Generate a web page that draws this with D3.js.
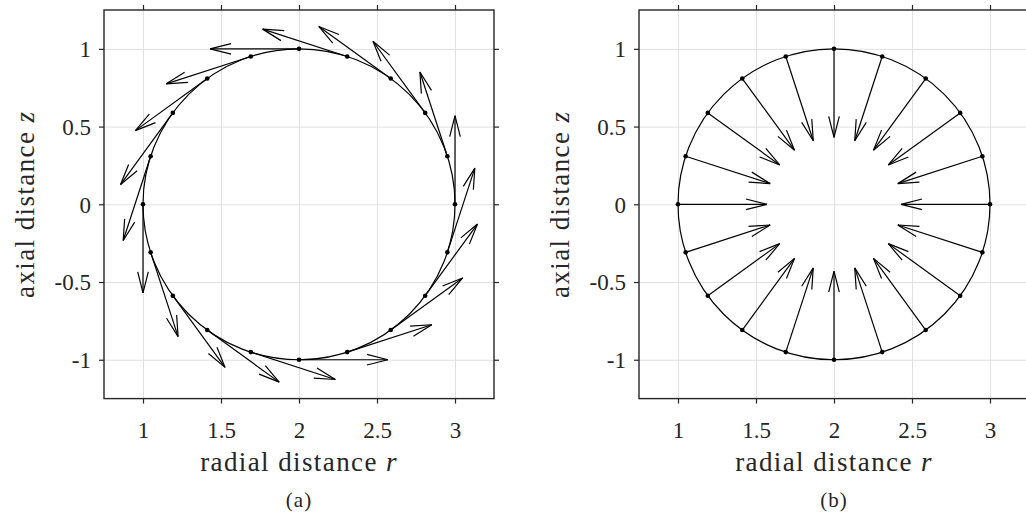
<!DOCTYPE html>
<html>
<head>
<meta charset="utf-8">
<script src="https://cdn.jsdelivr.net/npm/d3@7"></script>
<style>
  body { margin: 0; background: #fff; }
  svg { display: block; }
</style>
</head>
<body>
<svg id="fig" width="1026" height="514"></svg>
<script>
// Sample points on the circle (r, z), every 18 degrees starting at (3, 0)
const pointR = [3.000, 2.951, 2.809, 2.588, 2.309, 2.000, 1.691, 1.412, 1.191, 1.049,
                1.000, 1.049, 1.191, 1.412, 1.691, 2.000, 2.309, 2.588, 2.809, 2.951];
const pointZ = [0.000, 0.309, 0.588, 0.809, 0.951, 1.000, 0.951, 0.809, 0.588, 0.309,
                0.000, -0.309, -0.588, -0.809, -0.951, -1.000, -0.951, -0.809, -0.588, -0.309];

// (a) tangential field at each point
const swirlU = [0.000, -0.176, -0.335, -0.461, -0.542, -0.570, -0.542, -0.461, -0.335, -0.176,
                0.000, 0.176, 0.335, 0.461, 0.542, 0.570, 0.542, 0.461, 0.335, 0.176];
const swirlW = [0.570, 0.542, 0.461, 0.335, 0.176, 0.000, -0.176, -0.335, -0.461, -0.542,
                -0.570, -0.542, -0.461, -0.335, -0.176, 0.000, 0.176, 0.335, 0.461, 0.542];

// (b) inward normal field at each point
const inwardU = [-0.570, -0.542, -0.461, -0.335, -0.176, 0.000, 0.176, 0.335, 0.461, 0.542,
                 0.570, 0.542, 0.461, 0.335, 0.176, 0.000, -0.176, -0.335, -0.461, -0.542];
const inwardW = [0.000, -0.176, -0.335, -0.461, -0.542, -0.570, -0.542, -0.461, -0.335, -0.176,
                 0.000, 0.176, 0.335, 0.461, 0.542, 0.570, 0.542, 0.461, 0.335, 0.176];

const circleCenter = [2, 0];
const circleRadius = 1;

const rDomain = [0.75, 3.25];
const zDomain = [-1.25, 1.25];
const rTicks = [1, 1.5, 2, 2.5, 3];
const rTickLabels = ["1", "1.5", "2", "2.5", "3"];
const zTicks = [-1, -0.5, 0, 0.5, 1];
const zTickLabels = ["-1", "-0.5", "0", "0.5", "1"];
const panelCaptions = ["(a)", "(b)"];

const svg = d3.select("#fig");
const plotTop = 10, plotBottom = 398.6, boxW = 390;
const panelLefts = [104, 639];
const fields = [[swirlU, swirlW], [inwardU, inwardW]];
const ink = "#262626";
const serif = '"Liberation Serif", "Times New Roman", serif';
const headLen = 21, headHalf = 5.3;

panelLefts.forEach((left, p) => {
  const x = d3.scaleLinear().domain(rDomain).range([left, left + boxW]);
  const y = d3.scaleLinear().domain(zDomain).range([plotBottom, plotTop]);
  const g = svg.append("g");
  const h = plotBottom - plotTop;

  // grid
  g.append("g").attr("transform", `translate(0,${plotBottom})`)
    .call(d3.axisBottom(x).tickValues(rTicks).tickSize(-h).tickFormat(""))
    .call(a => a.select(".domain").remove())
    .call(a => a.selectAll("line").attr("stroke", "#e0e0e0").attr("stroke-width", 1));
  g.append("g").attr("transform", `translate(${left},0)`)
    .call(d3.axisLeft(y).tickValues(zTicks).tickSize(-boxW).tickFormat(""))
    .call(a => a.select(".domain").remove())
    .call(a => a.selectAll("line").attr("stroke", "#e0e0e0").attr("stroke-width", 1));

  // circle
  g.append("ellipse")
    .attr("cx", x(circleCenter[0])).attr("cy", y(circleCenter[1]))
    .attr("rx", x(circleCenter[0] + circleRadius) - x(circleCenter[0]))
    .attr("ry", y(circleCenter[1]) - y(circleCenter[1] + circleRadius))
    .attr("fill", "none").attr("stroke", "#000").attr("stroke-width", 1.2);

  // arrows
  const [U, W] = fields[p];
  const arrows = pointR.map((r, i) => {
    const x0 = x(r), y0 = y(pointZ[i]);
    const x1 = x(r + U[i]), y1 = y(pointZ[i] + W[i]);
    const len = Math.hypot(x1 - x0, y1 - y0);
    const dx = (x1 - x0) / len, dy = (y1 - y0) / len;
    const bx = x1 - dx * headLen, by = y1 - dy * headLen;
    return {
      shaft: [[x0, y0], [x1, y1]],
      head: [[bx - dy * headHalf, by + dx * headHalf], [x1, y1], [bx + dy * headHalf, by - dx * headHalf]]
    };
  });
  const line = d3.line();
  g.append("g").selectAll("path").data(arrows).join("path")
    .attr("d", d => line(d.shaft)).attr("fill", "none").attr("stroke", "#000").attr("stroke-width", 1.2);
  g.append("g").selectAll("path").data(arrows).join("path")
    .attr("d", d => line(d.head)).attr("fill", "none").attr("stroke", "#000").attr("stroke-width", 1.2);

  // sample points
  g.append("g").selectAll("circle").data(pointR).join("circle")
    .attr("cx", d => x(d)).attr("cy", (d, i) => y(pointZ[i])).attr("r", 2.3).attr("fill", "#000");

  // axes with outward ticks on all four sides
  const styleAxis = a => {
    a.select(".domain").remove();
    a.selectAll("line").attr("stroke", ink).attr("stroke-width", 1.2);
  };
  const styleLabels = t => t.style("font-family", serif).style("font-size", "23px").attr("fill", ink);
  g.append("g").attr("transform", `translate(0,${plotBottom})`)
    .call(d3.axisBottom(x).tickValues(rTicks).tickSize(5).tickSizeOuter(0)
      .tickFormat((d, i) => rTickLabels[i]))
    .call(styleAxis)
    .call(a => a.selectAll("text").attr("y", 39.4).attr("dy", null).call(styleLabels));
  g.append("g").attr("transform", `translate(0,${plotTop})`)
    .call(d3.axisTop(x).tickValues(rTicks).tickSize(5).tickSizeOuter(0).tickFormat(""))
    .call(styleAxis);
  g.append("g").attr("transform", `translate(${left},0)`)
    .call(d3.axisLeft(y).tickValues(zTicks).tickSize(5).tickSizeOuter(0)
      .tickFormat((d, i) => zTickLabels[i]))
    .call(styleAxis)
    .call(a => a.selectAll("text").attr("x", -13).attr("dy", "0.34em").call(styleLabels));
  g.append("g").attr("transform", `translate(${left + boxW},0)`)
    .call(d3.axisRight(y).tickValues(zTicks).tickSize(5).tickSizeOuter(0).tickFormat(""))
    .call(styleAxis);

  // box
  g.append("rect").attr("x", left).attr("y", plotTop).attr("width", boxW).attr("height", h)
    .attr("fill", "none").attr("stroke", ink).attr("stroke-width", 1.4);

  // axis labels
  const xl = g.append("text").attr("x", x(2)).attr("y", 471)
    .attr("text-anchor", "middle").attr("fill", ink)
    .style("font-family", serif).style("font-size", "27px").style("letter-spacing", "1.4px");
  xl.append("tspan").text("radial distance ");
  xl.append("tspan").style("font-style", "italic").text("r");

  const yl = g.append("text")
    .attr("transform", `translate(${left - 70},${(plotTop + plotBottom) / 2}) rotate(-90)`)
    .attr("text-anchor", "middle").attr("fill", ink)
    .style("font-family", serif).style("font-size", "27px").style("letter-spacing", "1.4px");
  yl.append("tspan").text("axial distance ");
  yl.append("tspan").style("font-style", "italic").text("z");

  g.append("text").attr("x", x(2)).attr("y", 507).attr("text-anchor", "middle").attr("fill", ink)
    .style("font-family", serif).style("font-size", "21px").style("letter-spacing", "1px")
    .text(panelCaptions[p]);
});
</script>
</body>
</html>
